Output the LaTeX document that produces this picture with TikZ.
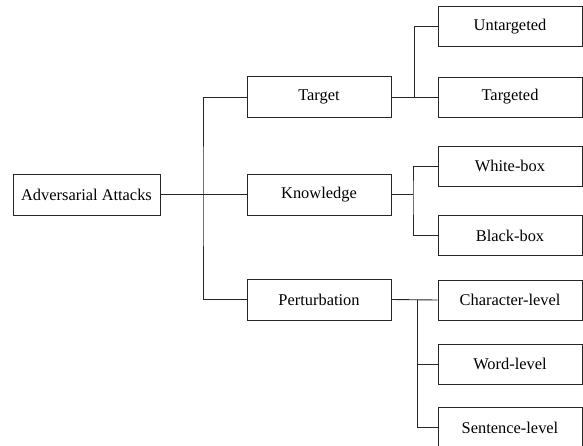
\documentclass[tikz,border=0pt]{standalone}
\usepackage{fontspec}
\setmainfont{Liberation Serif}
\begin{document}
\begin{tikzpicture}[x=1pt,y=-1pt,
  box/.style={draw=black!85,line width=0.9pt,minimum height=41pt,inner sep=0pt,font=\fontsize{16.4}{19}\selectfont},
  midbox/.style={box,minimum width=144pt},
  leafbox/.style={box,minimum width=144pt,minimum height=40pt},
  conn/.style={draw=black!85,line width=0.9pt}]
\useasboundingbox (0,0) rectangle (583,445);
\clip (0,0) rectangle (583,445);
\node[box,minimum width=147pt] (root) at (86.5,194.5) {Adversarial Attacks};
\node[midbox] (target) at (319,97) {Target};
\node[midbox] (know) at (319,194.5) {Knowledge};
\node[midbox] (pert) at (319,299.5) {Perturbation};
\node[leafbox] (untg) at (510,26.5) {Untargeted};
\node[leafbox] (tg) at (510,97) {Targeted};
\node[leafbox] (white) at (510,166) {White-box};
\node[leafbox] (black) at (510,235.5) {Black-box};
\node[leafbox] (char) at (510,300) {Character-level};
\node[leafbox] (word) at (510,364) {Word-level};
\node[leafbox] (sent) at (510,427.5) {Sentence-level};
\coordinate (j0) at (203,194.5);
\coordinate (j1) at (414,97);
\coordinate (j2) at (413,194.5);
\coordinate (j3) at (417,300);
\draw[conn] (root.east) -- (know.west);
\draw[conn] (target.west) -| (j0) |- (pert.west);
\draw[conn] (target.east) -- (tg.west);
\draw[conn] (untg.west) -| (j1);
\draw[conn] (know.east) -- (j2);
\draw[conn] (white.west) -| (j2) |- (black.west);
\draw[conn] (pert.east) -- (char.west);
\draw[conn] (j3) |- (sent.west);
\draw[conn] (word.west) -- (word.west -| j3);
\end{tikzpicture}
\end{document}
